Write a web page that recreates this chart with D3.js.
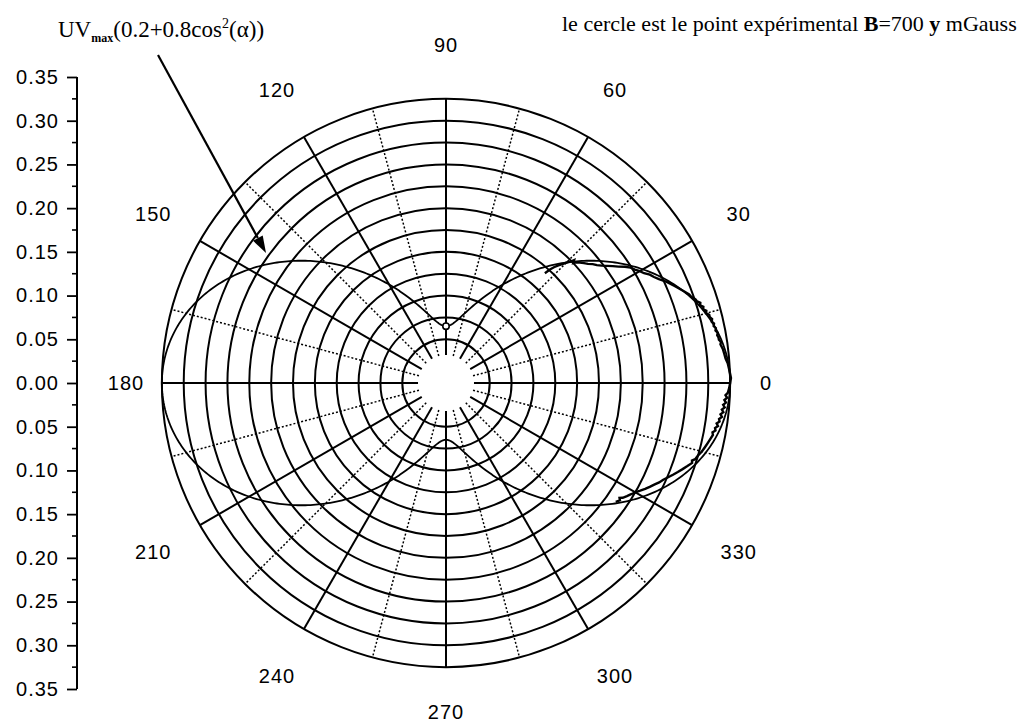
<!DOCTYPE html>
<html>
<head>
<meta charset="utf-8">
<script src="https://cdn.jsdelivr.net/npm/d3@7"></script>
<style>
  body { margin: 0; background: #fff; }
  svg { display: block; }
  .num { font-family: "Liberation Sans", Arial, sans-serif; font-size: 20px; letter-spacing: 1px; fill: #000; }
  .serif { font-family: "Liberation Serif", "Times New Roman", serif; fill: #000; }
</style>
</head>
<body>
<svg id="chart" width="1023" height="722"></svg>
<script>
// ---- data ----
const ringValues = [0.05, 0.075, 0.1, 0.125, 0.15, 0.175, 0.2, 0.225, 0.25, 0.275, 0.3, 0.325];
const spokeAngles = [0, 15, 30, 45, 60, 75, 90, 105, 120, 135, 150, 165, 180, 195, 210, 225, 240, 255, 270, 285, 300, 315, 330, 345];
const angleLabels = [0, 30, 60, 90, 120, 150, 180, 210, 240, 270, 300, 330];
const axisMajorTicks = [-0.35, -0.30, -0.25, -0.20, -0.15, -0.10, -0.05, 0, 0.05, 0.10, 0.15, 0.20, 0.25, 0.30, 0.35];
const axisMinorTicks = [-0.325, -0.275, -0.225, -0.175, -0.125, -0.075, -0.025, 0.025, 0.075, 0.125, 0.175, 0.225, 0.275, 0.325];

// model UVmax(0.2 + 0.8 cos^2(alpha))
const uvMax = 0.325;
const modelTerms = [0.2, 0.8];

// measured point drawn as a small circle
const circlePoint = [90, 0.065];

// measured trace: [angle in degrees, value]
const experimental = [
  [48,0.169],[47.5,0.176],[47,0.181],[46.3,0.186],[45.5,0.191],[44.8,0.196],[44.2,0.199],[43.8,0.203],
  [43.3,0.200],[42.8,0.203],[42,0.206],[41,0.209],[40,0.212],[39,0.216],[38,0.219],[37,0.223],
  [36,0.228],[35,0.233],[34,0.238],[33,0.244],[32,0.249],[31,0.252],[30,0.256],[29,0.259],
  [28,0.264],[27,0.267],[26,0.271],[25,0.276],[24,0.280],[23,0.284],[22,0.288],[21,0.292],
  [20,0.296],[19.5,0.297],[19,0.299],[18.5,0.301],[18,0.302],[17.5,0.305],[17,0.304],[16.5,0.307],
  [16,0.306],[15.5,0.309],[15,0.308],[14.5,0.311],[14,0.311],[13.5,0.313],[13,0.312],[12.5,0.314],
  [12,0.313],[11.5,0.315],[11,0.314],[10.5,0.316],[10,0.315],[9.5,0.316],[9,0.316],[8.5,0.318],
  [8,0.317],[7,0.319],[6,0.320],[5,0.321],[4,0.323],[3,0.324],[2,0.325],[1,0.326],[0,0.325],
  [-1,0.324],[-2,0.3225],[-2.5,0.320],[-3,0.322],[-3.5,0.319],[-4,0.321],[-4.5,0.318],[-5,0.320],
  [-5.5,0.317],[-6,0.319],[-6.5,0.316],[-7,0.318],[-7.5,0.315],[-8,0.316],[-8.5,0.313],[-9,0.315],
  [-9.5,0.312],[-10,0.313],[-10.5,0.310],[-11,0.311],[-12,0.309],[-13,0.307],[-14,0.305],[-15,0.303],
  [-16,0.300],[-17,0.298],[-17.5,0.295],[-18,0.296],[-19,0.292],[-20,0.288],[-21,0.284],[-22,0.280],
  [-23,0.276],[-24,0.272],[-25,0.269],[-26,0.265],[-27,0.2615],[-28,0.258],[-29,0.254],[-30,0.250],
  [-31,0.247],[-32,0.244],[-33,0.241],[-33.5,0.238],[-34,0.240],[-35,0.237]
];

// ---- layout ----
const svg = d3.select("#chart");
const cx = 446, cy = 383;
const r = d3.scaleLinear().domain([0, 0.35]).range([0, 306]);
const rad = d => d * Math.PI / 180;
const px = (a, v) => cx + r(v) * Math.cos(rad(a));
const py = (a, v) => cy - r(v) * Math.sin(rad(a));

svg.append("rect").attr("width", 1023).attr("height", 722).attr("fill", "#fff");

const grid = svg.append("g");

// rings
grid.selectAll("circle.ring").data(ringValues).join("circle")
  .attr("class", "ring")
  .attr("cx", cx).attr("cy", cy).attr("r", d => r(d))
  .attr("fill", "none").attr("stroke", "#000").attr("stroke-width", 2);

// spokes: solid every 30 degrees, dotted halfway between
const spokeStart = 0.032, spokeEnd = ringValues[ringValues.length - 1];
grid.selectAll("line.spoke").data(spokeAngles).join("line")
  .attr("class", "spoke")
  .attr("x1", d => px(d, spokeStart)).attr("y1", d => py(d, spokeStart))
  .attr("x2", d => px(d, spokeEnd)).attr("y2", d => py(d, spokeEnd))
  .attr("stroke", "#000")
  .attr("stroke-width", d => d % 30 === 0 ? 2 : 1.5)
  .attr("stroke-dasharray", d => d % 30 === 0 ? null : "2,2");

// angle labels
const labelPos = d => {
  const R = d % 180 === 0 ? 320 : 338;
  return [cx + R * Math.cos(rad(d)), Math.min(cy - R * Math.sin(rad(d)), 712)];
};
svg.selectAll("text.ang").data(angleLabels).join("text")
  .attr("class", "num ang")
  .attr("x", d => labelPos(d)[0])
  .attr("y", d => labelPos(d)[1])
  .attr("text-anchor", "middle")
  .attr("dominant-baseline", "central")
  .text(d => d);

// model curve
const modelAngles = d3.range(0, 360.5, 0.5);
const model = a => uvMax * (modelTerms[0] + modelTerms[1] * Math.cos(rad(a)) ** 2);
const line = d3.line().x(d => px(d[0], d[1])).y(d => py(d[0], d[1]));
svg.append("path")
  .datum(modelAngles.map(a => [a, model(a)]))
  .attr("d", line)
  .attr("fill", "none").attr("stroke", "#000").attr("stroke-width", 1.8);

// measured trace
svg.append("path")
  .datum(experimental)
  .attr("d", line)
  .attr("fill", "none").attr("stroke", "#000").attr("stroke-width", 2.4)
  .attr("stroke-linejoin", "miter");

// measured point circle
svg.append("circle")
  .attr("cx", px(circlePoint[0], circlePoint[1]))
  .attr("cy", py(circlePoint[0], circlePoint[1]))
  .attr("r", 3.2)
  .attr("fill", "#fff").attr("stroke", "#000").attr("stroke-width", 1.6);

// left value axis
const y = d3.scaleLinear().domain([-0.35, 0.35]).range([cy + r(0.35), cy - r(0.35)]);
const axisX = 77;
const axis = svg.append("g").attr("transform", `translate(${axisX},0)`);
axis.call(d3.axisLeft(y).tickValues(axisMajorTicks).tickSize(10).tickPadding(8)
  .tickFormat(d => d3.format(".2f")(Math.abs(d))));
axis.attr("font-size", null).attr("font-family", null);
axis.select(".domain").attr("stroke", "#000").attr("stroke-width", 2)
  .attr("d", `M0,${y(0.35)}V${y(-0.35)}`);
axis.selectAll(".tick line").attr("stroke", "#000").attr("stroke-width", 1.8);
axis.selectAll(".tick text").attr("class", "num");
axis.selectAll("line.minor").data(axisMinorTicks).join("line")
  .attr("class", "minor")
  .attr("x1", -5).attr("x2", 0)
  .attr("y1", d => y(d)).attr("y2", d => y(d))
  .attr("stroke", "#000").attr("stroke-width", 1.6);

// formula annotation with arrow
const f = svg.append("text").attr("class", "serif").attr("x", 58).attr("y", 37).attr("font-size", 23);
f.append("tspan").text("UV");
f.append("tspan").attr("font-size", 12).attr("font-weight", "bold").attr("dy", 5).text("max");
f.append("tspan").attr("dy", -5).text("(0.2+0.8cos");
f.append("tspan").attr("font-size", 14).attr("dy", -9).text("2");
f.append("tspan").attr("dy", 9).text("(α))");

const a0 = [158, 55], a1 = [266, 253];
const ang = Math.atan2(a1[1] - a0[1], a1[0] - a0[0]);
const headLen = 17, headW = 5.5;
const bx = a1[0] - headLen * Math.cos(ang), by = a1[1] - headLen * Math.sin(ang);
svg.append("line").attr("x1", a0[0]).attr("y1", a0[1]).attr("x2", bx).attr("y2", by)
  .attr("stroke", "#000").attr("stroke-width", 2.2);
svg.append("path")
  .attr("d", `M${a1[0]},${a1[1]}L${bx + headW * Math.sin(ang)},${by - headW * Math.cos(ang)}L${bx - headW * Math.sin(ang)},${by + headW * Math.cos(ang)}Z`)
  .attr("fill", "#000");

// caption
const cap = svg.append("text").attr("class", "serif").attr("x", 562).attr("y", 31).attr("font-size", 22);
cap.append("tspan").text("le cercle est le point expérimental ");
cap.append("tspan").attr("font-weight", "bold").text("B");
cap.append("tspan").text("=700 ");
cap.append("tspan").attr("font-weight", "bold").text("y");
cap.append("tspan").text(" mGauss");
</script>
</body>
</html>
